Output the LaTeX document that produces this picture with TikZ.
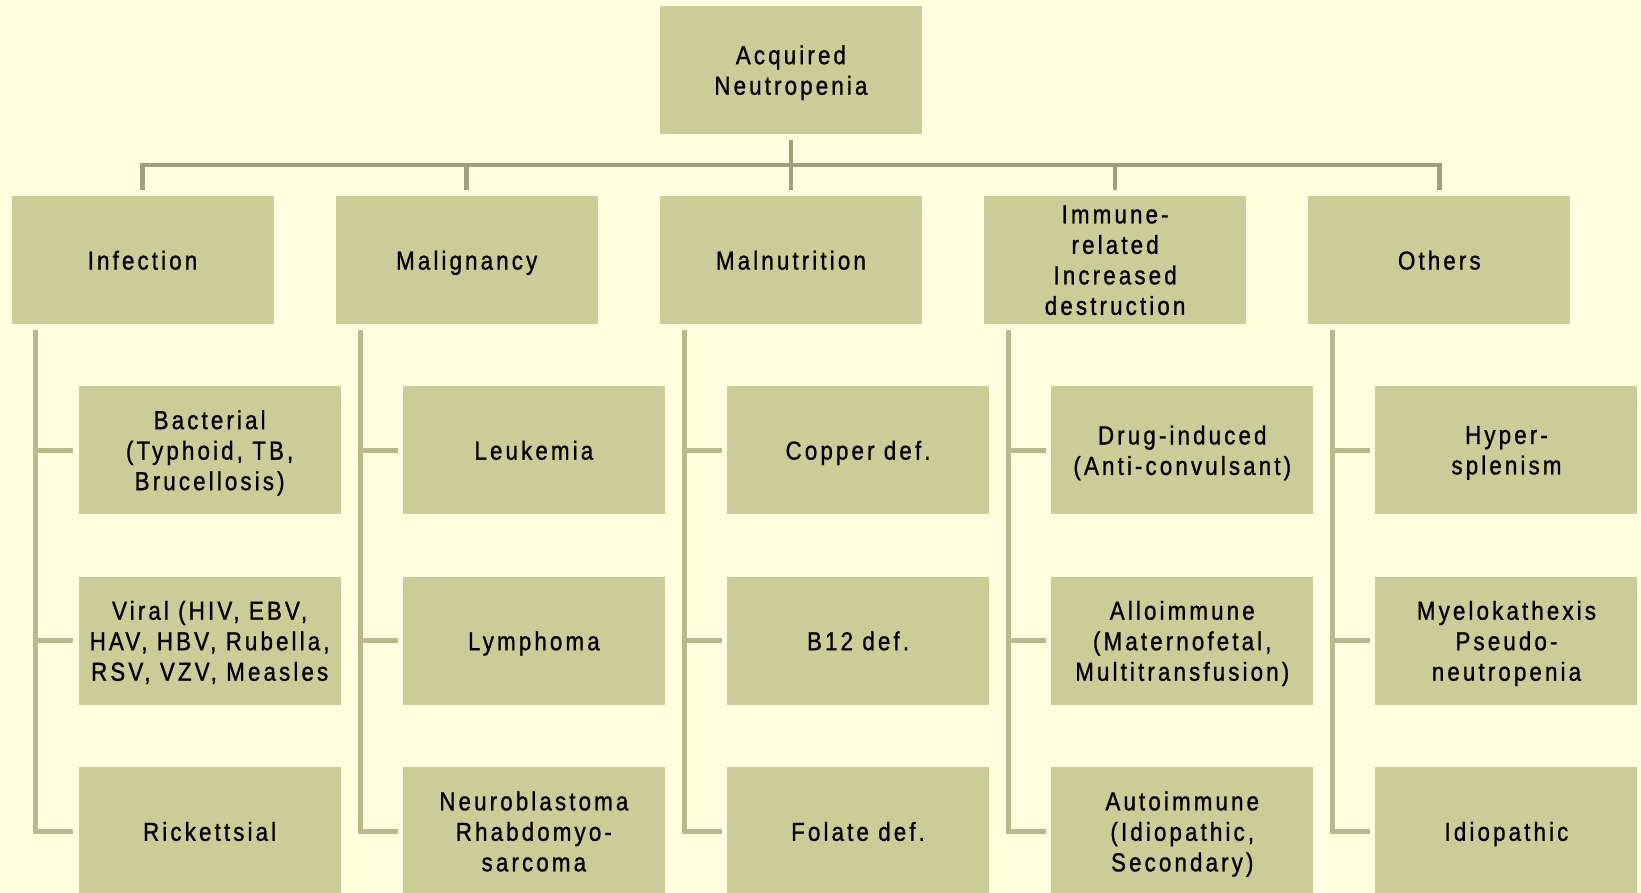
\documentclass[tikz,border=0pt]{standalone}
\usepackage{fontspec}
\setmainfont{Liberation Sans}[FakeStretch=0.86,LetterSpace=12,FakeBold=1]
\usetikzlibrary{calc}
\definecolor{bgc}{HTML}{FFFFE0}
\definecolor{boxc}{HTML}{CCCC99}
\definecolor{busc}{HTML}{A0A078}
\definecolor{spinec}{HTML}{B9B98C}
\tikzset{
  boxnode/.style={fill=boxc, minimum width=262pt, minimum height=128.3pt, inner sep=0pt,
    align=center, text=black, text depth=0pt, font=\fontsize{26}{30.5}\selectfont},
  busline/.style={draw=busc, line width=4.5pt, line join=miter},
  spineline/.style={draw=spinec, line width=5pt, line join=miter}
}
\begin{document}
\begin{tikzpicture}[x=1pt,y=-1pt]
\fill[bgc] (0,0) rectangle (1641,893);
\useasboundingbox (0,0) rectangle (1641,893);

\node[boxnode] (top) at (790.9,70) {Acquired\\Neutropenia};

\node[boxnode] (c1) at (142.5,260.15) {Infection};
\node[boxnode] (c2) at (466.7,260.15) {Malignancy};
\node[boxnode] (c3) at (790.9,260.15) {Malnutrition};
\node[boxnode] (c4) at (1115.1,260.15) {Immune-\\related\\Increased\\destruction};
\node[boxnode] (c5) at (1439.3,260.15) {Others};

% column 1
\node[boxnode] (s11) at (209.65,450.2) {Bacterial\\(Typhoid, TB,\\Brucellosis)};
\node[boxnode] (s12) at (209.65,640.8) {Viral (HIV, EBV,\\HAV, HBV, Rubella,\\RSV, VZV, Measles};
\node[boxnode] (s13) at (209.65,831.4) {Rickettsial};
% column 2
\node[boxnode] (s21) at (533.85,450.2) {Leukemia};
\node[boxnode] (s22) at (533.85,640.8) {Lymphoma};
\node[boxnode] (s23) at (533.85,831.4) {Neuroblastoma\\Rhabdomyo-\\sarcoma};
% column 3
\node[boxnode] (s31) at (858.05,450.2) {Copper def.};
\node[boxnode] (s32) at (858.05,640.8) {B12 def.};
\node[boxnode] (s33) at (858.05,831.4) {Folate def.};
% column 4
\node[boxnode] (s41) at (1182.25,450.2) {Drug-induced\\(Anti-convulsant)};
\node[boxnode] (s42) at (1182.25,640.8) {Alloimmune\\(Maternofetal,\\Multitransfusion)};
\node[boxnode] (s43) at (1182.25,831.4) {Autoimmune\\(Idiopathic,\\Secondary)};
% column 5
\node[boxnode] (s51) at (1506.45,450.2) {Hyper-\\splenism};
\node[boxnode] (s52) at (1506.45,640.8) {Myelokathexis\\Pseudo-\\neutropenia};
\node[boxnode] (s53) at (1506.45,831.4) {Idiopathic};

% bus
\draw[busline] ($(c1.north)+(0,-5.3)$) -- ++(0,-25.7) -| ($(c5.north)+(0,-5.3)$);
\draw[busline] ($(c2.north)+(0,-5.3)$) -- ++(0,-25.7);
\draw[busline] ($(c4.north)+(0,-5.3)$) -- ++(0,-25.7);
\draw[busline] ($(top.south)+(0,6)$) -- ($(c3.north)+(0,-5.3)$);

% spines and ticks
\foreach \c in {1,...,5}{
  \draw[spineline] ($(c\c.south west)+(24.5,5.7)$) |- ($(s\c3.west)+(-5,0)$);
  \draw[spineline] ($(s\c1.west)+(-44.5,0)$) -- ($(s\c1.west)+(-5,0)$);
  \draw[spineline] ($(s\c2.west)+(-44.5,0)$) -- ($(s\c2.west)+(-5,0)$);
}
\end{tikzpicture}
\end{document}
